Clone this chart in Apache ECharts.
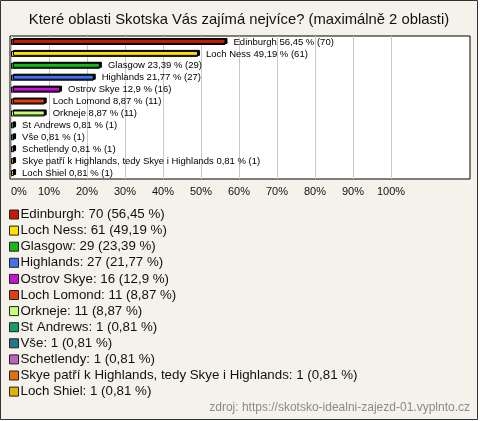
<!DOCTYPE html>
<html>
<head>
<meta charset="utf-8">
<script src="https://cdn.jsdelivr.net/npm/echarts@6/dist/echarts.min.js"></script>
<style>
  html, body { margin: 0; padding: 0; background: #fff; }
  #chart { width: 478px; height: 420px; }
</style>
</head>
<body>
<div id="chart"></div>
<script>
// odpovedi (poradi jako v grafu)
var names = ['Edinburgh', 'Loch Ness', 'Glasgow', 'Highlands', 'Ostrov Skye', 'Loch Lomond', 'Orkneje',
  'St Andrews', 'Vše', 'Schetlendy', 'Skye patří k Highlands, tedy Skye i Highlands', 'Loch Shiel'];
var counts = [70, 61, 29, 27, 16, 11, 11, 1, 1, 1, 1, 1];
var percents = [56.45, 49.19, 23.39, 21.77, 12.9, 8.87, 8.87, 0.81, 0.81, 0.81, 0.81, 0.81];
var colors = ['#c41a06', '#ffe000', '#18b818', '#4272ee', '#c414d0', '#e04010', '#c4ff74',
  '#12a062', '#1f7890', '#c060c0', '#e27206', '#e2b200'];
var xTicks = [0, 10, 20, 30, 40, 50, 60, 70, 80, 90, 100];

function fmt(v) { return String(v).replace('.', ','); }

var series = names.map(function (name, i) {
  var data = names.map(function (n, j) { return j === i ? percents[i] : null; });
  return {
    name: name,
    type: 'bar',
    xAxisIndex: 1,
    yAxisIndex: 1,
    barWidth: 6,
    barGap: '-100%',
    data: data,
    itemStyle: {
      color: colors[i],
      borderColor: '#000',
      borderWidth: 1,
      shadowColor: '#000',
      shadowBlur: 0,
      shadowOffsetX: 2,
      shadowOffsetY: -1
    },
    label: {
      show: true,
      position: 'right',
      distance: 8,
      fontFamily: 'Liberation Sans',
      fontSize: 9.5,
      color: '#000',
      formatter: function () { return name + ' ' + fmt(percents[i]) + ' % (' + counts[i] + ')'; }
    },
    emphasis: { disabled: true }
  };
});

var chart = echarts.init(document.getElementById('chart'));
chart.setOption({
  backgroundColor: '#f4f2ea',
  animation: false,
  title: [{
    text: 'Které oblasti Skotska Vás zajímá nejvíce? (maximálně 2 oblasti)',
    left: 'center',
    top: 12,
    padding: 0,
    textStyle: { fontFamily: 'Liberation Sans', fontSize: 14.8, fontWeight: 'normal', color: '#111' }
  }, {
    text: 'zdroj: https://skotsko-idealni-zajezd-01.vyplnto.cz',
    right: 8,
    top: 402,
    padding: 0,
    textStyle: { fontFamily: 'Liberation Sans', fontSize: 12, fontWeight: 'normal', color: '#8a8a8a' }
  }],
  grid: [
    { left: 10, top: 36, width: 460, height: 143, show: true, backgroundColor: '#fff', borderColor: '#000', borderWidth: 1 },
    { left: 11, top: 36, width: 380, height: 143 }
  ],
  xAxis: [
    { gridIndex: 0, type: 'value', show: false },
    {
      gridIndex: 1, type: 'value', min: 0, max: 100, interval: 10,
      axisLine: { show: false }, axisTick: { show: false },
      splitLine: { lineStyle: { color: '#c8c8c8', width: 1 } },
      axisLabel: {
        margin: 7, fontFamily: 'Liberation Sans', fontSize: 11, color: '#111',
        alignMinLabel: 'left',
        formatter: function (v) { return xTicks.indexOf(v) >= 0 ? v + '%' : ''; }
      }
    }
  ],
  yAxis: [
    { gridIndex: 0, type: 'category', show: false, data: names },
    { gridIndex: 1, type: 'category', inverse: true, data: names, show: false }
  ],
  legend: {
    orient: 'vertical',
    left: 9,
    top: 208,
    padding: 0,
    itemWidth: 9,
    itemHeight: 9,
    itemGap: 3.1,
    icon: 'rect',
    selectedMode: false,
    itemStyle: { borderColor: '#222', borderWidth: 1, shadowBlur: 0, shadowOffsetX: 0, shadowOffsetY: 0, shadowColor: 'transparent' },
    textStyle: { fontFamily: 'Liberation Sans', fontSize: 13.3, color: '#111', padding: [0, 0, 0, -3] },
    formatter: function (name) {
      var i = names.indexOf(name);
      return name + ': ' + counts[i] + ' (' + fmt(percents[i]) + ' %)';
    },
    data: names
  },
  graphic: [{
    type: 'rect',
    silent: true,
    shape: { x: 0.5, y: 0.5, width: 477, height: 419 },
    style: { fill: 'none', stroke: '#333', lineWidth: 1 }
  }],
  series: series
});
</script>
</body>
</html>
